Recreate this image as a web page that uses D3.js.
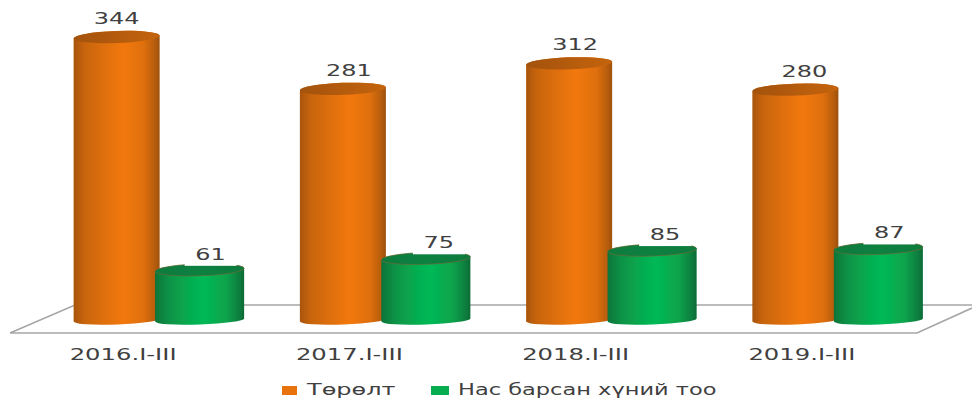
<!DOCTYPE html>
<html>
<head>
<meta charset="utf-8">
<script src="https://cdn.jsdelivr.net/npm/d3@7"></script>
<style>
  html, body { margin: 0; padding: 0; background: #fff; }
  svg { display: block; }
  text { font-family: "DejaVu Sans", sans-serif; fill: #404040; }
</style>
</head>
<body>
<div id="chart"></div>
<script>
// Chart values
const categories = ['2016.I-III', '2017.I-III', '2018.I-III', '2019.I-III'];
const seriesNames = ['Төрөлт', 'Нас барсан хүний тоо'];
const births = [344, 281, 312, 280];
const deaths = [61, 75, 85, 87];

function renderChart() {
    const width = 972, height = 400;

    const svg = d3.select('#chart').append('svg')
        .attr('width', width)
        .attr('height', height);

    // scales: one band per period, one inner band per series
    const x = d3.scaleBand().domain(categories).range([47, 952]);
    const xInner = d3.scaleBand().domain(seriesNames).range([-85, 81]);
    const y = d3.scaleLinear().domain([0, 344]).range([320, 37]);

    // gradients for the cylinder walls and caps
    const defs = svg.append('defs');
    const gradient = (id, stops) => {
        const g = defs.append('linearGradient').attr('id', id);
        stops.forEach(s => g.append('stop').attr('offset', s[0]).attr('stop-color', s[1]));
    };
    gradient('orangeWall', [[0, '#a85407'], [0.12, '#c7640a'], [0.35, '#de6f0c'], [0.58, '#f2780c'], [0.82, '#de6f0c'], [0.95, '#b55c09'], [1, '#9c5008']]);
    gradient('greenWall', [[0, '#07743a'], [0.15, '#099246'], [0.4, '#06ae50'], [0.55, '#05b955'], [0.8, '#08a34b'], [0.95, '#097c3e'], [1, '#076a35']]);
    gradient('orangeCap', [[0, '#a3520a'], [0.5, '#b45b0a'], [1, '#c4640b']]);
    gradient('greenCap', [[0, '#0a7a3d'], [0.5, '#0a8141'], [1, '#0a7a3d']]);

    const blur = defs.append('filter').attr('id', 'soft');
    blur.append('feGaussianBlur').attr('stdDeviation', 0.5);

    // floor of the 3d plot
    svg.append('path')
        .attr('d', 'M10,333 L917,333 L972,308 M10,333 L75,305 L972,305')
        .attr('fill', 'none')
        .attr('stroke', '#a6a6a6')
        .attr('stroke-width', 1.6);

    const tilt = 1.6, ryTop = 6, ryBottom = 4.5;
    const cylinder = (cx, halfWidth, top) => {
        const l = cx - halfWidth, r = cx + halfWidth, b = y(0);
        return `M${l},${top + tilt} L${l},${b + tilt} `
            + `A${halfWidth},${ryBottom} -2 0 0 ${r},${b - tilt} `
            + `L${r},${top - tilt} `
            + `A${halfWidth},${ryTop} -2 0 0 ${l},${top + tilt} Z`;
    };
    const topEllipse = (cx, halfWidth, top) => {
        const l = cx - halfWidth, r = cx + halfWidth;
        return `M${l},${top + tilt} A${halfWidth},${ryTop} -2 0 0 ${r},${top - tilt} `
            + `A${halfWidth},${ryTop} -2 0 0 ${l},${top + tilt} Z`;
    };

    // label nudges per bar, the source chart placed them by hand
    const series = [
        { name: seriesNames[0], values: births, halfWidth: 43, wall: 'url(#orangeWall)', cap: 'url(#orangeCap)', rim: 'none', labelDx: [0, 6, 6, 9], labelDy: -19, box: false },
        { name: seriesNames[1], values: deaths, halfWidth: 44.5, wall: 'url(#greenWall)', cap: 'url(#greenCap)', rim: '#6e6a35', labelDx: [11, 13, 13, 11], labelDy: -16, box: true }
    ];

    const center = i => x(categories[i]) + x.bandwidth() / 2;

    series.forEach(s => {
        const group = svg.append('g').attr('filter', 'url(#soft)');
        const cx = i => center(i) + xInner(s.name) + xInner.bandwidth() / 2;

        group.selectAll('.wall')
            .data(s.values)
            .enter()
            .append('path')
            .attr('class', 'wall')
            .attr('d', (d, i) => cylinder(cx(i), s.halfWidth, y(d)))
            .attr('fill', s.wall);

        group.selectAll('.cap')
            .data(s.values)
            .enter()
            .append('path')
            .attr('class', 'cap')
            .attr('d', (d, i) => topEllipse(cx(i), s.halfWidth, y(d)))
            .attr('fill', s.cap)
            .attr('stroke', s.rim)
            .attr('stroke-width', 0.7);

        // green labels sit on a white box, which nibbles the top of the cap
        if (s.box) {
            svg.selectAll(null)
                .data(s.values)
                .enter()
                .append('rect')
                .attr('x', (d, i) => cx(i) + s.labelDx[i] - 26)
                .attr('y', d => y(d) - 26)
                .attr('width', 52)
                .attr('height', 22)
                .attr('fill', '#fff');
        }

        svg.selectAll(null)
            .data(s.values)
            .enter()
            .append('text')
            .attr('text-anchor', 'middle')
            .attr('transform', (d, i) => `translate(${cx(i) + s.labelDx[i]},${y(d) + s.labelDy + 6}) scale(1.5,1)`)
            .style('font-size', '16px')
            .text(d => d);
    });

    // category labels
    svg.selectAll('.cat')
        .data(categories)
        .enter()
        .append('text')
        .attr('class', 'cat')
        .attr('text-anchor', 'middle')
        .attr('transform', d => `translate(${x(d) + x.bandwidth() / 2 - 37},360) scale(1.62,1)`)
        .style('font-size', '15px')
        .text(d => d);

    // legend, kept just above the bottom edge so the descenders fit
    const legendItems = [
        { name: seriesNames[0], color: '#e8720c', bx: 282, bw: 15, tx: 307, sx: 1.6 },
        { name: seriesNames[1], color: '#06ae50', bx: 431, bw: 18, tx: 458, sx: 1.5 }
    ];
    legendItems.forEach(item => {
        svg.append('rect')
            .attr('x', item.bx).attr('y', 386)
            .attr('width', item.bw).attr('height', 9)
            .attr('fill', item.color);
        svg.append('text')
            .attr('transform', `translate(${item.tx},395) scale(${item.sx},1)`)
            .style('font-size', '15px')
            .text(item.name);
    });
}

renderChart();
</script>
</body>
</html>
